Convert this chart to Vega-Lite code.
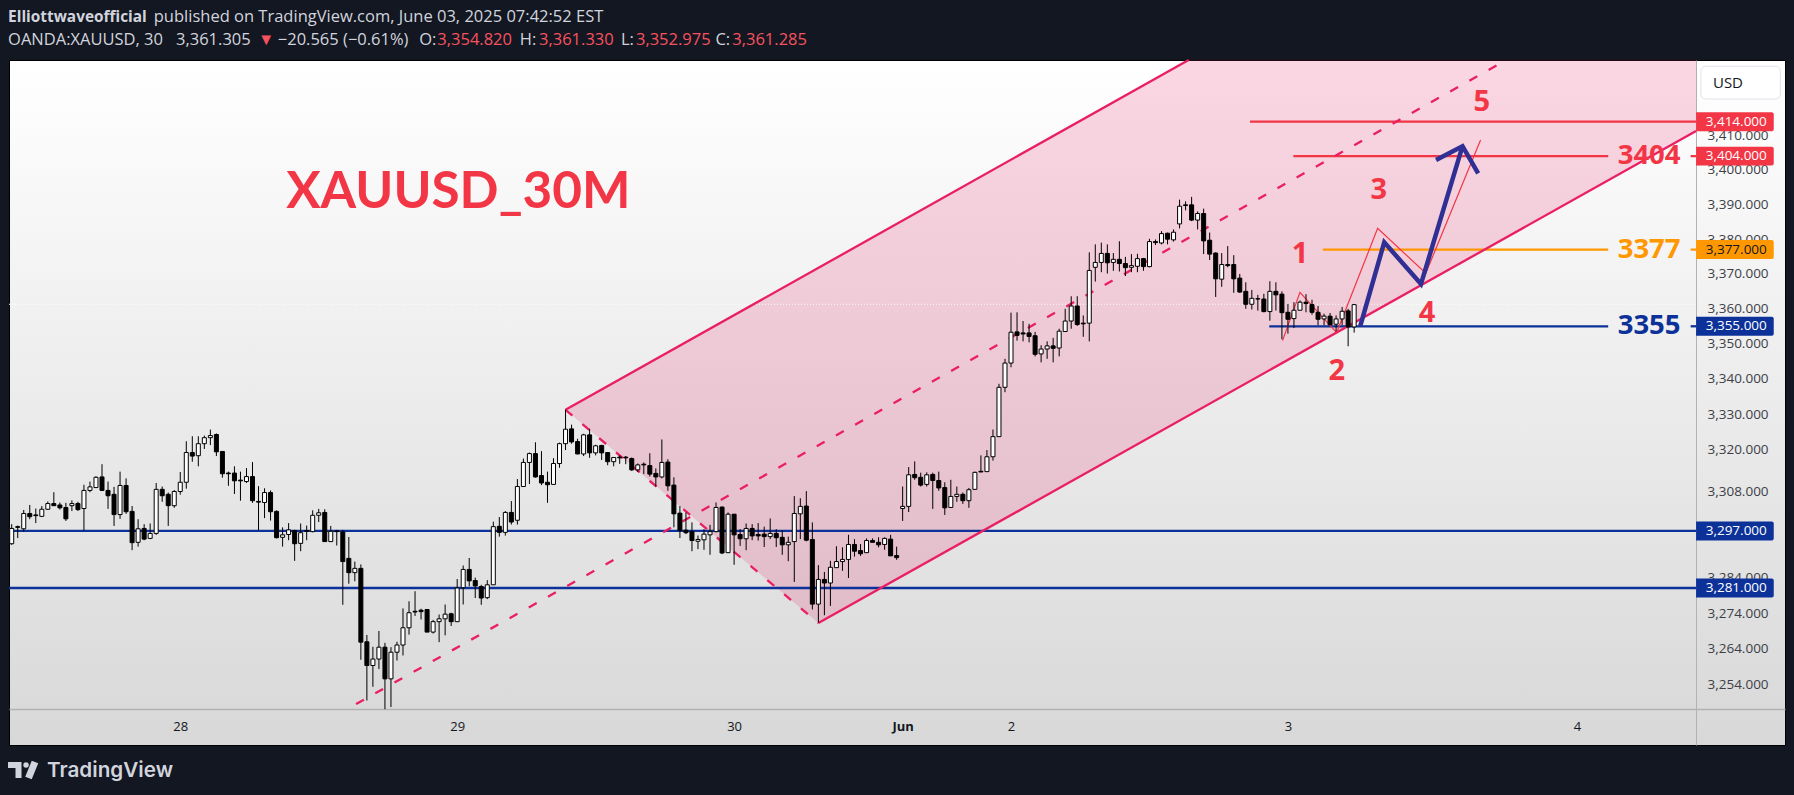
{
  "$schema": "https://vega.github.io/schema/vega-lite/v6.json",
  "width": 1776,
  "height": 685,
  "autosize": {"type": "none"},
  "padding": {"left": 9, "top": 60, "right": 9, "bottom": 50},
  "background": "#131722",
  "view": {
    "stroke": "#000000",
    "fill": {"gradient": "linear", "x1": 0, "y1": 0, "x2": 0, "y2": 1, "stops": [{"offset": 0, "color": "#ffffff"}, {"offset": 1, "color": "#d8d8d8"}]}
  },
  "config": {"text": {"font": "Open Sans"}, "axis": {"labelFont": "Open Sans"}},
  "datasets": {
    "candles": [
      {"i":0,"o":3293.4,"h":3298.9,"l":3293.1,"c":3297.7},{"i":1,"o":3298.2,"h":3298.5,"l":3295.0,"c":3298.0},{"i":2,"o":3297.6,"h":3302.9,"l":3296.8,"c":3301.9},{"i":3,"o":3301.9,"h":3304.3,"l":3300.3,"c":3301.0},
      {"i":4,"o":3301.5,"h":3303.3,"l":3299.2,"c":3301.3},{"i":5,"o":3301.1,"h":3304.0,"l":3300.9,"c":3303.1},{"i":6,"o":3303.1,"h":3305.3,"l":3302.9,"c":3304.7},{"i":7,"o":3304.7,"h":3307.9,"l":3304.0,"c":3304.1},
      {"i":8,"o":3304.3,"h":3305.0,"l":3303.0,"c":3303.5},{"i":9,"o":3303.6,"h":3304.9,"l":3299.8,"c":3300.4},{"i":10,"o":3304.1,"h":3305.6,"l":3302.6,"c":3304.7},{"i":11,"o":3304.7,"h":3305.2,"l":3302.6,"c":3303.0},
      {"i":12,"o":3303.3,"h":3310.0,"l":3297.1,"c":3308.4},{"i":13,"o":3308.4,"h":3310.9,"l":3307.9,"c":3309.4},{"i":14,"o":3309.2,"h":3312.4,"l":3309.1,"c":3312.1},{"i":15,"o":3312.2,"h":3315.8,"l":3308.2,"c":3308.4},
      {"i":16,"o":3308.4,"h":3310.9,"l":3303.2,"c":3306.9},{"i":17,"o":3307.3,"h":3309.4,"l":3298.4,"c":3301.6},{"i":18,"o":3301.6,"h":3313.7,"l":3300.4,"c":3309.8},{"i":19,"o":3309.8,"h":3311.8,"l":3301.8,"c":3302.4},
      {"i":20,"o":3302.5,"h":3304.0,"l":3291.6,"c":3293.7},{"i":21,"o":3293.8,"h":3300.3,"l":3292.6,"c":3297.6},{"i":22,"o":3297.7,"h":3298.9,"l":3294.4,"c":3294.7},{"i":23,"o":3294.9,"h":3299.1,"l":3294.7,"c":3296.3},
      {"i":24,"o":3296.3,"h":3310.5,"l":3295.9,"c":3308.7},{"i":25,"o":3308.7,"h":3309.5,"l":3305.2,"c":3306.9},{"i":26,"o":3307.3,"h":3307.8,"l":3298.4,"c":3304.1},{"i":27,"o":3304.1,"h":3308.5,"l":3303.5,"c":3308.1},
      {"i":28,"o":3308.1,"h":3313.6,"l":3307.2,"c":3310.7},{"i":29,"o":3310.7,"h":3322.3,"l":3308.9,"c":3319.1},{"i":30,"o":3319.1,"h":3323.7,"l":3316.5,"c":3318.1},{"i":31,"o":3318.2,"h":3323.7,"l":3315.2,"c":3321.6},
      {"i":32,"o":3321.6,"h":3323.9,"l":3320.1,"c":3323.3},{"i":33,"o":3323.3,"h":3325.6,"l":3321.2,"c":3323.9},{"i":34,"o":3324.2,"h":3324.5,"l":3318.1,"c":3319.3},{"i":35,"o":3319.4,"h":3319.5,"l":3312.0,"c":3313.1},
      {"i":36,"o":3313.3,"h":3313.7,"l":3309.7,"c":3313.1},{"i":37,"o":3313.3,"h":3315.2,"l":3307.4,"c":3311.1},{"i":38,"o":3311.3,"h":3313.7,"l":3305.5,"c":3311.1},{"i":39,"o":3310.9,"h":3314.7,"l":3310.5,"c":3312.3},
      {"i":40,"o":3312.3,"h":3316.4,"l":3304.9,"c":3305.5},{"i":41,"o":3305.3,"h":3309.6,"l":3297.2,"c":3305.1},{"i":42,"o":3305.0,"h":3309.0,"l":3300.6,"c":3307.8},{"i":43,"o":3307.8,"h":3308.4,"l":3299.9,"c":3302.4},
      {"i":44,"o":3302.5,"h":3302.8,"l":3294.9,"c":3295.1},{"i":45,"o":3295.2,"h":3298.0,"l":3292.6,"c":3295.9},{"i":46,"o":3296.0,"h":3299.2,"l":3294.4,"c":3297.3},{"i":47,"o":3297.1,"h":3297.3,"l":3288.6,"c":3293.4},
      {"i":48,"o":3293.5,"h":3299.1,"l":3291.3,"c":3296.5},{"i":49,"o":3297.1,"h":3298.5,"l":3294.4,"c":3296.9},{"i":50,"o":3296.8,"h":3302.8,"l":3296.6,"c":3301.4},{"i":51,"o":3301.4,"h":3303.2,"l":3299.5,"c":3302.1},
      {"i":52,"o":3302.2,"h":3303.1,"l":3294.0,"c":3294.0},{"i":53,"o":3294.0,"h":3298.4,"l":3294.0,"c":3296.9},{"i":54,"o":3297.0,"h":3297.3,"l":3292.9,"c":3296.8},{"i":55,"o":3296.7,"h":3297.3,"l":3276.3,"c":3288.4},
      {"i":56,"o":3289.3,"h":3295.3,"l":3282.2,"c":3285.3},{"i":57,"o":3285.3,"h":3288.4,"l":3282.9,"c":3286.5},{"i":58,"o":3286.5,"h":3287.6,"l":3261.0,"c":3265.9},{"i":59,"o":3266.0,"h":3267.9,"l":3249.7,"c":3259.4},
      {"i":60,"o":3259.4,"h":3264.6,"l":3253.5,"c":3261.2},{"i":61,"o":3261.2,"h":3269.0,"l":3258.4,"c":3264.5},{"i":62,"o":3264.5,"h":3265.7,"l":3247.3,"c":3255.7},{"i":63,"o":3255.7,"h":3264.5,"l":3247.9,"c":3263.1},
      {"i":64,"o":3263.1,"h":3266.0,"l":3260.8,"c":3265.1},{"i":65,"o":3265.1,"h":3275.3,"l":3262.2,"c":3269.9},{"i":66,"o":3269.9,"h":3277.3,"l":3268.0,"c":3274.1},{"i":67,"o":3274.5,"h":3280.1,"l":3273.2,"c":3274.3},
      {"i":68,"o":3274.8,"h":3275.2,"l":3272.2,"c":3274.4},{"i":69,"o":3275.0,"h":3275.1,"l":3268.7,"c":3268.7},{"i":70,"o":3268.7,"h":3272.1,"l":3268.3,"c":3271.6},{"i":71,"o":3271.6,"h":3273.6,"l":3265.9,"c":3272.4},
      {"i":72,"o":3272.4,"h":3276.4,"l":3267.8,"c":3273.7},{"i":73,"o":3273.8,"h":3274.1,"l":3270.4,"c":3271.6},{"i":74,"o":3271.6,"h":3283.5,"l":3271.6,"c":3281.0},{"i":75,"o":3281.1,"h":3287.3,"l":3276.4,"c":3286.2},
      {"i":76,"o":3286.2,"h":3289.4,"l":3281.5,"c":3283.0},{"i":77,"o":3283.1,"h":3283.9,"l":3278.2,"c":3281.6},{"i":78,"o":3281.4,"h":3281.9,"l":3276.3,"c":3278.2},{"i":79,"o":3278.3,"h":3283.2,"l":3277.9,"c":3281.9},
      {"i":80,"o":3281.9,"h":3299.6,"l":3281.9,"c":3298.2},{"i":81,"o":3298.3,"h":3300.9,"l":3295.4,"c":3296.6},{"i":82,"o":3296.6,"h":3302.6,"l":3295.7,"c":3302.2},{"i":83,"o":3302.2,"h":3305.4,"l":3298.8,"c":3299.5},
      {"i":84,"o":3300.0,"h":3311.6,"l":3298.8,"c":3309.5},{"i":85,"o":3309.5,"h":3317.4,"l":3309.5,"c":3316.3},{"i":86,"o":3316.3,"h":3319.1,"l":3310.2,"c":3318.8},{"i":87,"o":3318.8,"h":3322.0,"l":3312.0,"c":3312.2},
      {"i":88,"o":3312.6,"h":3319.5,"l":3309.9,"c":3310.5},{"i":89,"o":3310.7,"h":3313.7,"l":3304.9,"c":3310.0},{"i":90,"o":3310.1,"h":3317.5,"l":3310.1,"c":3316.0},{"i":91,"o":3316.0,"h":3321.9,"l":3314.8,"c":3321.6},
      {"i":92,"o":3321.6,"h":3331.3,"l":3319.8,"c":3325.7},{"i":93,"o":3325.8,"h":3327.0,"l":3321.6,"c":3322.1},{"i":94,"o":3322.2,"h":3323.0,"l":3318.6,"c":3318.7},{"i":95,"o":3318.7,"h":3324.4,"l":3318.1,"c":3324.1},
      {"i":96,"o":3324.1,"h":3325.8,"l":3317.6,"c":3319.0},{"i":97,"o":3319.0,"h":3321.3,"l":3318.3,"c":3321.0},{"i":98,"o":3321.1,"h":3321.3,"l":3317.0,"c":3319.0},{"i":99,"o":3319.1,"h":3319.2,"l":3315.5,"c":3316.5},
      {"i":100,"o":3316.5,"h":3317.8,"l":3315.2,"c":3317.7},{"i":101,"o":3317.8,"h":3318.3,"l":3315.9,"c":3317.6},{"i":102,"o":3317.8,"h":3318.1,"l":3315.8,"c":3317.6},{"i":103,"o":3317.4,"h":3317.7,"l":3313.9,"c":3314.2},
      {"i":104,"o":3314.2,"h":3316.0,"l":3313.6,"c":3315.6},{"i":105,"o":3315.8,"h":3316.3,"l":3313.0,"c":3315.6},{"i":106,"o":3315.4,"h":3318.9,"l":3312.3,"c":3313.0},{"i":107,"o":3313.2,"h":3314.6,"l":3309.5,"c":3312.2},
      {"i":108,"o":3312.2,"h":3322.8,"l":3311.8,"c":3316.3},{"i":109,"o":3316.4,"h":3317.2,"l":3308.3,"c":3309.7},{"i":110,"o":3309.9,"h":3312.1,"l":3298.0,"c":3301.8},{"i":111,"o":3302.0,"h":3304.0,"l":3295.0,"c":3297.1},
      {"i":112,"o":3297.2,"h":3302.2,"l":3296.1,"c":3296.5},{"i":113,"o":3296.8,"h":3299.4,"l":3291.3,"c":3294.3},{"i":114,"o":3294.1,"h":3295.7,"l":3291.9,"c":3294.6},{"i":115,"o":3294.5,"h":3297.5,"l":3291.7,"c":3296.1},
      {"i":116,"o":3295.9,"h":3298.7,"l":3290.3,"c":3296.8},{"i":117,"o":3296.8,"h":3305.0,"l":3296.6,"c":3303.6},{"i":118,"o":3303.7,"h":3303.9,"l":3290.5,"c":3290.8},{"i":119,"o":3290.9,"h":3302.2,"l":3290.9,"c":3301.7},
      {"i":120,"o":3301.7,"h":3301.7,"l":3287.5,"c":3295.9},{"i":121,"o":3296.0,"h":3297.5,"l":3292.8,"c":3294.8},{"i":122,"o":3294.8,"h":3299.1,"l":3291.6,"c":3297.7},{"i":123,"o":3297.7,"h":3298.9,"l":3294.4,"c":3295.6},
      {"i":124,"o":3296.0,"h":3299.2,"l":3294.3,"c":3295.6},{"i":125,"o":3296.1,"h":3298.2,"l":3292.5,"c":3295.4},{"i":126,"o":3295.4,"h":3300.5,"l":3294.7,"c":3296.3},{"i":127,"o":3296.3,"h":3297.5,"l":3292.5,"c":3295.1},
      {"i":128,"o":3295.2,"h":3297.1,"l":3290.3,"c":3293.1},{"i":129,"o":3293.1,"h":3295.4,"l":3288.5,"c":3293.8},{"i":130,"o":3294.0,"h":3306.8,"l":3282.7,"c":3301.9},{"i":131,"o":3301.8,"h":3306.2,"l":3294.7,"c":3303.9},
      {"i":132,"o":3304.0,"h":3308.2,"l":3294.1,"c":3294.4},{"i":133,"o":3294.6,"h":3299.4,"l":3275.0,"c":3276.5},{"i":134,"o":3276.5,"h":3287.4,"l":3271.3,"c":3283.4},{"i":135,"o":3283.4,"h":3285.5,"l":3273.4,"c":3282.4},
      {"i":136,"o":3282.4,"h":3288.6,"l":3276.0,"c":3286.8},{"i":137,"o":3286.7,"h":3292.7,"l":3286.7,"c":3288.4},{"i":138,"o":3288.4,"h":3292.4,"l":3285.8,"c":3289.0},{"i":139,"o":3289.0,"h":3295.9,"l":3283.8,"c":3293.2},
      {"i":140,"o":3293.2,"h":3294.7,"l":3289.8,"c":3291.3},{"i":141,"o":3291.5,"h":3293.3,"l":3290.0,"c":3290.6},{"i":142,"o":3290.9,"h":3294.9,"l":3290.9,"c":3294.3},{"i":143,"o":3294.3,"h":3294.9,"l":3293.8,"c":3293.8},
      {"i":144,"o":3293.8,"h":3295.2,"l":3292.4,"c":3293.1},{"i":145,"o":3293.2,"h":3295.2,"l":3291.7,"c":3294.9},{"i":146,"o":3294.7,"h":3295.9,"l":3290.0,"c":3290.0},{"i":147,"o":3290.1,"h":3292.6,"l":3288.9,"c":3289.5},
      {"i":148,"o":3303.3,"h":3309.5,"l":3299.8,"c":3303.9},{"i":149,"o":3303.9,"h":3315.0,"l":3302.3,"c":3312.8},{"i":150,"o":3312.9,"h":3316.6,"l":3311.4,"c":3312.0},{"i":151,"o":3312.1,"h":3313.4,"l":3309.5,"c":3309.9},
      {"i":152,"o":3310.1,"h":3313.5,"l":3309.5,"c":3312.8},{"i":153,"o":3312.9,"h":3313.4,"l":3303.2,"c":3311.2},{"i":154,"o":3311.2,"h":3313.7,"l":3308.3,"c":3309.1},{"i":155,"o":3309.2,"h":3310.7,"l":3301.5,"c":3303.5},
      {"i":156,"o":3303.6,"h":3311.4,"l":3303.6,"c":3306.7},{"i":157,"o":3306.7,"h":3309.5,"l":3305.2,"c":3307.3},{"i":158,"o":3307.3,"h":3307.8,"l":3304.6,"c":3305.5},{"i":159,"o":3305.5,"h":3309.1,"l":3303.5,"c":3308.6},
      {"i":160,"o":3308.7,"h":3313.7,"l":3308.7,"c":3313.5},{"i":161,"o":3313.8,"h":3318.3,"l":3313.6,"c":3313.6},{"i":162,"o":3313.7,"h":3319.8,"l":3313.7,"c":3317.9},{"i":163,"o":3317.9,"h":3325.6,"l":3316.8,"c":3323.6},
      {"i":164,"o":3323.6,"h":3338.6,"l":3323.6,"c":3337.6},{"i":165,"o":3337.6,"h":3345.7,"l":3336.2,"c":3344.5},{"i":166,"o":3344.5,"h":3358.9,"l":3343.3,"c":3353.3},{"i":167,"o":3353.4,"h":3359.0,"l":3350.9,"c":3352.4},
      {"i":168,"o":3353.1,"h":3356.5,"l":3350.7,"c":3352.8},{"i":169,"o":3353.1,"h":3355.7,"l":3350.4,"c":3352.1},{"i":170,"o":3352.3,"h":3353.4,"l":3346.4,"c":3347.0},{"i":171,"o":3347.1,"h":3349.6,"l":3344.7,"c":3348.5},
      {"i":172,"o":3348.5,"h":3350.7,"l":3345.7,"c":3349.4},{"i":173,"o":3349.4,"h":3351.7,"l":3344.7,"c":3348.7},{"i":174,"o":3348.8,"h":3354.3,"l":3346.4,"c":3353.6},{"i":175,"o":3353.5,"h":3360.0,"l":3353.4,"c":3356.5},
      {"i":176,"o":3356.5,"h":3363.6,"l":3354.3,"c":3360.8},{"i":177,"o":3360.8,"h":3363.6,"l":3355.1,"c":3355.5},{"i":178,"o":3355.9,"h":3358.1,"l":3352.0,"c":3355.7},{"i":179,"o":3355.9,"h":3376.2,"l":3350.7,"c":3371.0},
      {"i":180,"o":3371.9,"h":3378.5,"l":3367.8,"c":3373.3},{"i":181,"o":3373.3,"h":3379.0,"l":3370.5,"c":3375.9},{"i":182,"o":3375.9,"h":3378.5,"l":3370.1,"c":3373.2},{"i":183,"o":3373.3,"h":3376.0,"l":3370.9,"c":3374.2},
      {"i":184,"o":3374.2,"h":3379.4,"l":3370.7,"c":3373.0},{"i":185,"o":3373.0,"h":3374.9,"l":3369.4,"c":3371.8},{"i":186,"o":3371.9,"h":3375.7,"l":3370.5,"c":3372.4},{"i":187,"o":3372.2,"h":3375.8,"l":3370.5,"c":3374.4},
      {"i":188,"o":3374.4,"h":3374.6,"l":3370.9,"c":3372.1},{"i":189,"o":3372.1,"h":3380.1,"l":3371.9,"c":3379.3},{"i":190,"o":3379.3,"h":3379.9,"l":3378.3,"c":3379.0},{"i":191,"o":3378.9,"h":3382.3,"l":3378.5,"c":3381.6},
      {"i":192,"o":3381.7,"h":3381.9,"l":3378.5,"c":3380.0},{"i":193,"o":3379.8,"h":3382.8,"l":3379.3,"c":3382.0},{"i":194,"o":3384.4,"h":3391.4,"l":3383.1,"c":3389.5},{"i":195,"o":3389.9,"h":3390.9,"l":3388.3,"c":3389.7},
      {"i":196,"o":3389.9,"h":3392.2,"l":3385.2,"c":3385.5},{"i":197,"o":3385.5,"h":3388.0,"l":3382.8,"c":3387.4},{"i":198,"o":3387.4,"h":3388.8,"l":3375.7,"c":3379.5},{"i":199,"o":3379.7,"h":3381.9,"l":3374.0,"c":3375.7},
      {"i":200,"o":3376.0,"h":3376.2,"l":3363.4,"c":3368.6},{"i":201,"o":3368.5,"h":3376.0,"l":3366.3,"c":3372.7},{"i":202,"o":3372.7,"h":3378.0,"l":3371.9,"c":3372.4},{"i":203,"o":3372.7,"h":3375.4,"l":3364.6,"c":3368.6},
      {"i":204,"o":3368.8,"h":3370.0,"l":3364.6,"c":3364.8},{"i":205,"o":3365.0,"h":3367.6,"l":3360.0,"c":3361.3},{"i":206,"o":3361.3,"h":3365.4,"l":3359.8,"c":3363.0},{"i":207,"o":3362.9,"h":3364.0,"l":3359.5,"c":3362.8},
      {"i":208,"o":3362.8,"h":3364.3,"l":3359.0,"c":3359.2},{"i":209,"o":3359.2,"h":3367.9,"l":3356.6,"c":3365.0},{"i":210,"o":3365.0,"h":3367.6,"l":3359.5,"c":3364.0},{"i":211,"o":3364.2,"h":3365.0,"l":3351.3,"c":3358.9},
      {"i":212,"o":3359.0,"h":3361.4,"l":3352.9,"c":3357.0},{"i":213,"o":3357.2,"h":3361.9,"l":3354.5,"c":3359.6},{"i":214,"o":3359.6,"h":3362.4,"l":3359.6,"c":3361.9},{"i":215,"o":3361.9,"h":3364.2,"l":3359.0,"c":3361.5},
      {"i":216,"o":3361.2,"h":3362.6,"l":3358.3,"c":3359.0},{"i":217,"o":3359.0,"h":3360.8,"l":3355.3,"c":3357.0},{"i":218,"o":3357.1,"h":3358.6,"l":3355.3,"c":3357.9},{"i":219,"o":3357.9,"h":3358.8,"l":3355.3,"c":3355.4},
      {"i":220,"o":3355.6,"h":3358.1,"l":3353.5,"c":3357.1},{"i":221,"o":3357.1,"h":3360.5,"l":3355.3,"c":3359.3},{"i":222,"o":3359.4,"h":3360.0,"l":3349.3,"c":3354.8},{"i":223,"o":3354.8,"h":3361.4,"l":3353.2,"c":3361.2}
    ],
    "channel": [
      {"i":92,"upper":3331.2,"lower":3331.2},
      {"i":134,"upper":3371.7,"lower":3271.2},
      {"i":195.5,"upper":3432.0,"lower":3329.6},
      {"i":279.8,"upper":3432.0,"lower":3411.3}
    ],
    "channelLines": [
      {"line":"upper","i":92,"p":3331.2},{"line":"upper","i":195.5,"p":3432.0},
      {"line":"lower","i":134,"p":3271.2},{"line":"lower","i":279.8,"p":3411.3}
    ],
    "channelDashed": [
      {"line":"mid","i":57.2,"p":3248.7},{"line":"mid","i":248.3,"p":3432.0},
      {"line":"side","i":92,"p":3331.2},{"line":"side","i":134,"p":3271.2}
    ],
    "levels": [
      {"from":-0.45,"to":279.8,"price":3297,"tone":"blue"},
      {"from":-0.45,"to":279.8,"price":3281,"tone":"blue"},
      {"from":208.9,"to":265.2,"price":3355,"tone":"blue"},
      {"from":278.9,"to":279.8,"price":3355,"tone":"blue"},
      {"from":217.8,"to":265.2,"price":3377,"tone":"orange"},
      {"from":278.9,"to":279.8,"price":3377,"tone":"orange"},
      {"from":212.9,"to":265.2,"price":3404,"tone":"red"},
      {"from":278.9,"to":279.8,"price":3404,"tone":"red"},
      {"from":205.7,"to":279.8,"price":3414,"tone":"red"}
    ],
    "tags": [
      {"label":"3,414.000","price":3414,"lo":3411.24,"hi":3416.76,"tone":"red","ink":"white"},
      {"label":"3,404.000","price":3404,"lo":3401.25,"hi":3406.75,"tone":"red","ink":"white"},
      {"label":"3,377.000","price":3377,"lo":3374.27,"hi":3379.73,"tone":"orange","ink":"dark"},
      {"label":"3,355.000","price":3355,"lo":3352.28,"hi":3357.72,"tone":"blue","ink":"white"},
      {"label":"3,297.000","price":3297,"lo":3294.33,"hi":3299.67,"tone":"blue","ink":"white"},
      {"label":"3,281.000","price":3281,"lo":3278.34,"hi":3283.66,"tone":"blue","ink":"white"}
    ],
    "waves": [
      {"path":"red","n":1,"i":211.1,"p":3350.9},{"path":"red","n":2,"i":214.0,"p":3364.7},{"path":"red","n":3,"i":220.1,"p":3353.2},{"path":"red","n":4,"i":226.9,"p":3383.1},{"path":"red","n":5,"i":234.9,"p":3370.2},{"path":"red","n":6,"i":244.0,"p":3408.7}
    ],
    "arrow": [
      {"path":"shaft","n":1,"i":224.0,"p":3355},{"path":"shaft","n":2,"i":228.0,"p":3379.1},{"path":"shaft","n":3,"i":234.1,"p":3367.1},{"path":"shaft","n":4,"i":241.0,"p":3406.9},
      {"path":"head","n":1,"i":236.6,"p":3402.9},{"path":"head","n":2,"i":241.0,"p":3406.9},{"path":"head","n":3,"i":243.6,"p":3399.0}
    ],
    "waveLabels": [
      {"text":"1","i":214.0,"p":3375.7},{"text":"2","i":220.1,"p":3342.2},{"text":"3","i":227.1,"p":3394.2},{"text":"4","i":235.1,"p":3358.8},{"text":"5","i":244.2,"p":3419.7}
    ],
    "levelLabels": [
      {"text":"3404","i":272.0,"p":3404,"tone":"red"},{"text":"3377","i":272.0,"p":3377,"tone":"orange"},{"text":"3355","i":272.0,"p":3355,"tone":"blue"}
    ],
    "header": [
      {"text":"published on TradingView.com, June 03, 2025 07:42:52 EST","i":23.6,"p":3444.6,"tone":"head"},
      {"text":"OANDA:XAUUSD, 30","i":-0.6,"p":3437.9,"tone":"head"},
      {"text":"3,361.305","i":27.3,"p":3437.9,"tone":"head"},
      {"text":"▼","i":40.9,"p":3437.9,"tone":"down"},
      {"text":"−20.565 (−0.61%)","i":44.2,"p":3437.9,"tone":"head"},
      {"text":"O:","i":67.7,"p":3437.9,"tone":"head"},
      {"text":"3,354.820","i":70.7,"p":3437.9,"tone":"down"},
      {"text":"H:","i":84.4,"p":3437.9,"tone":"head"},
      {"text":"3,361.330","i":87.6,"p":3437.9,"tone":"down"},
      {"text":"L:","i":101.2,"p":3437.9,"tone":"head"},
      {"text":"3,352.975","i":103.7,"p":3437.9,"tone":"down"},
      {"text":"C:","i":116.9,"p":3437.9,"tone":"head"},
      {"text":"3,361.285","i":119.7,"p":3437.9,"tone":"down"}
    ],
    "logo": [
      {"part":"t","n":1,"i":-0.61,"p":3231.9},{"part":"t","n":2,"i":1.13,"p":3231.9},{"part":"t","n":3,"i":1.13,"p":3228.3}
    ],
    "logoSlash": [
      {"part":"s","n":1,"i":3.87,"p":3232.7},{"part":"s","n":2,"i":2.79,"p":3228.3}
    ]
  },
  "layer": [
    {
      "data": {"name": "channel"},
      "mark": {"type": "area", "color": "#e91e63", "opacity": 0.18},
      "encoding": {
        "x": {
          "field": "i", "type": "quantitative", "title": null,
          "scale": {"domain": [-0.449, 294.57], "nice": false, "zero": false, "padding": 0},
          "axis": {
            "orient": "bottom", "offset": -36, "grid": false, "ticks": false,
            "values": [28, 74, 120, 148, 166, 212, 260],
            "labelExpr": "{'28':'28','74':'29','120':'30','148':'Jun','166':'2','212':'3','260':'4'}[datum.value]",
            "labelFontWeight": {"condition": {"test": "datum.value == 148", "value": "bold"}, "value": "normal"},
            "labelFontSize": 13, "labelColor": "#131722", "labelPadding": 11,
            "domainColor": "#b2b2b2", "domainWidth": 1.5, "labelFlush": false
          }
        },
        "y": {
          "field": "upper", "type": "quantitative", "title": null,
          "scale": {"type": "log", "domain": [3237.4, 3432.0], "nice": false},
          "axis": {
            "orient": "right", "offset": -89, "grid": false, "ticks": false,
            "values": [3254, 3264, 3274, 3284, 3308, 3320, 3330, 3340, 3350, 3360, 3370, 3380, 3390, 3400, 3410],
            "format": ",.3f",
            "labelFontSize": 13.5, "labelColor": "#3c3f47", "labelPadding": 11,
            "domainColor": "#b2b2b2", "domainWidth": 1
          }
        },
        "y2": {"field": "lower"}
      }
    },
    {
      "data": {"name": "levels"},
      "mark": {"type": "rule", "strokeWidth": 2.3},
      "encoding": {
        "x": {"field": "from", "type": "quantitative"},
        "x2": {"field": "to"},
        "y": {"field": "price", "type": "quantitative"},
        "color": {"field": "tone", "type": "nominal", "legend": null, "scale": {"domain": ["red", "orange", "blue", "navy", "pink", "white", "dark", "head", "down"], "range": ["#f23645", "#ff9800", "#0c3299", "#2f2f94", "#e91e63", "#ffffff", "#131722", "#d1d4dc", "#f7525f"]}}
      }
    },
    {
      "data": {"values": [{"from": -0.45, "to": 279.8, "price": 3361.3}]},
      "mark": {"type": "rule", "color": "#ffffff", "strokeWidth": 1, "strokeDash": [1, 2]},
      "encoding": {
        "x": {"field": "from", "type": "quantitative"},
        "x2": {"field": "to"},
        "y": {"field": "price", "type": "quantitative"}
      }
    },
    {
      "data": {"name": "channelLines"},
      "mark": {"type": "line", "color": "#e91e63", "strokeWidth": 2.3},
      "encoding": {
        "x": {"field": "i", "type": "quantitative"},
        "y": {"field": "p", "type": "quantitative"},
        "detail": {"field": "line"}
      }
    },
    {
      "data": {"name": "channelDashed"},
      "mark": {"type": "line", "color": "#e91e63", "strokeWidth": 2.3, "strokeDash": [9, 13]},
      "encoding": {
        "x": {"field": "i", "type": "quantitative"},
        "y": {"field": "p", "type": "quantitative"},
        "detail": {"field": "line"}
      }
    },
    {
      "data": {"name": "waves"},
      "mark": {"type": "line", "color": "#f23645", "strokeWidth": 1.2},
      "encoding": {
        "x": {"field": "i", "type": "quantitative"},
        "y": {"field": "p", "type": "quantitative"},
        "order": {"field": "n"}
      }
    },
    {
      "data": {"name": "arrow"},
      "mark": {"type": "line", "color": "#2f2f94", "strokeWidth": 4.5},
      "encoding": {
        "x": {"field": "i", "type": "quantitative"},
        "y": {"field": "p", "type": "quantitative"},
        "detail": {"field": "path"},
        "order": {"field": "n"}
      }
    },
    {
      "data": {"name": "candles"},
      "mark": {"type": "rule", "color": "#000000", "strokeWidth": 1},
      "encoding": {
        "x": {"field": "i", "type": "quantitative"},
        "y": {"field": "l", "type": "quantitative"},
        "y2": {"field": "h"}
      }
    },
    {
      "data": {"name": "candles"},
      "mark": {"type": "bar", "size": 4, "stroke": "#000000", "strokeWidth": 1},
      "encoding": {
        "x": {"field": "i", "type": "quantitative"},
        "y": {"field": "o", "type": "quantitative"},
        "y2": {"field": "c"},
        "color": {"condition": {"test": "datum.c >= datum.o", "value": "#ffffff"}, "value": "#000000"}
      }
    },
    {
      "data": {"name": "tags"},
      "mark": {"type": "rect", "cornerRadiusTopRight": 2, "cornerRadiusBottomRight": 2},
      "encoding": {
        "x": {"datum": 279.8, "type": "quantitative"},
        "x2": {"datum": 292.7},
        "y": {"field": "lo", "type": "quantitative"},
        "y2": {"field": "hi"},
        "color": {"field": "tone", "type": "nominal", "legend": null}
      }
    },
    {
      "data": {"name": "tags"},
      "mark": {"type": "text", "align": "left", "baseline": "middle", "fontSize": 13.5},
      "encoding": {
        "x": {"datum": 281.4, "type": "quantitative"},
        "y": {"field": "price", "type": "quantitative"},
        "text": {"field": "label"},
        "color": {"field": "ink", "type": "nominal", "legend": null}
      }
    },
    {
      "data": {"values": [{"x0": 280.6, "x1": 293.8, "y0": 3430.2, "y1": 3420.6}]},
      "mark": {"type": "rect", "fill": "#ffffff", "stroke": "#e0e3eb", "cornerRadius": 5},
      "encoding": {
        "x": {"field": "x0", "type": "quantitative"},
        "x2": {"field": "x1"},
        "y": {"field": "y0", "type": "quantitative"},
        "y2": {"field": "y1"}
      }
    },
    {
      "data": {"values": [{"text": "USD", "i": 282.6, "p": 3425.3}]},
      "mark": {"type": "text", "align": "left", "baseline": "middle", "fontSize": 15, "color": "#131722"},
      "encoding": {
        "x": {"field": "i", "type": "quantitative"},
        "y": {"field": "p", "type": "quantitative"},
        "text": {"field": "text"}
      }
    },
    {
      "data": {"values": [{"text": "XAUUSD_30M", "i": 45.6, "p": 3393.4}]},
      "mark": {"type": "text", "align": "left", "baseline": "middle", "fontSize": 51.3, "fontWeight": "bold", "font": "Lato", "color": "#f23645"},
      "encoding": {
        "x": {"field": "i", "type": "quantitative"},
        "y": {"field": "p", "type": "quantitative"},
        "text": {"field": "text"}
      }
    },
    {
      "data": {"name": "levelLabels"},
      "mark": {"type": "text", "align": "center", "baseline": "middle", "fontSize": 27.5, "fontWeight": "bold"},
      "encoding": {
        "x": {"field": "i", "type": "quantitative"},
        "y": {"field": "p", "type": "quantitative"},
        "text": {"field": "text"},
        "color": {"field": "tone", "type": "nominal", "legend": null}
      }
    },
    {
      "data": {"name": "waveLabels"},
      "mark": {"type": "text", "align": "center", "baseline": "middle", "fontSize": 29, "fontWeight": "bold", "color": "#f23645"},
      "encoding": {
        "x": {"field": "i", "type": "quantitative"},
        "y": {"field": "p", "type": "quantitative"},
        "text": {"field": "text"}
      }
    },
    {
      "data": {"name": "header"},
      "mark": {"type": "text", "align": "left", "baseline": "middle", "fontSize": 16.5},
      "encoding": {
        "x": {"field": "i", "type": "quantitative"},
        "y": {"field": "p", "type": "quantitative"},
        "text": {"field": "text"},
        "color": {"field": "tone", "type": "nominal", "legend": null}
      }
    },
    {
      "data": {"values": [{"text": "Elliottwaveofficial", "i": -0.6, "p": 3444.6}]},
      "mark": {"type": "text", "align": "left", "baseline": "middle", "fontSize": 15.4, "fontWeight": "bold", "color": "#d1d4dc"},
      "encoding": {
        "x": {"field": "i", "type": "quantitative"},
        "y": {"field": "p", "type": "quantitative"},
        "text": {"field": "text"}
      }
    },
    {
      "data": {"values": [{"text": "TradingView", "i": 5.86, "p": 3230.3}]},
      "mark": {"type": "text", "align": "left", "baseline": "middle", "fontSize": 20.7, "fontWeight": 600, "font": "Inter", "color": "#d1d4dc"},
      "encoding": {
        "x": {"field": "i", "type": "quantitative"},
        "y": {"field": "p", "type": "quantitative"},
        "text": {"field": "text"}
      }
    },
    {
      "data": {"name": "logo"},
      "mark": {"type": "line", "color": "#d1d4dc", "strokeWidth": 6, "strokeCap": "butt", "strokeJoin": "miter"},
      "encoding": {
        "x": {"field": "i", "type": "quantitative"},
        "y": {"field": "p", "type": "quantitative"},
        "order": {"field": "n"}
      }
    },
    {
      "data": {"name": "logoSlash"},
      "mark": {"type": "line", "color": "#d1d4dc", "strokeWidth": 7, "strokeCap": "butt"},
      "encoding": {
        "x": {"field": "i", "type": "quantitative"},
        "y": {"field": "p", "type": "quantitative"},
        "order": {"field": "n"}
      }
    },
    {
      "data": {"values": [{"i": 2.38, "p": 3231.9}]},
      "mark": {"type": "circle", "color": "#d1d4dc", "size": 30, "opacity": 1},
      "encoding": {
        "x": {"field": "i", "type": "quantitative"},
        "y": {"field": "p", "type": "quantitative"}
      }
    }
  ]
}
